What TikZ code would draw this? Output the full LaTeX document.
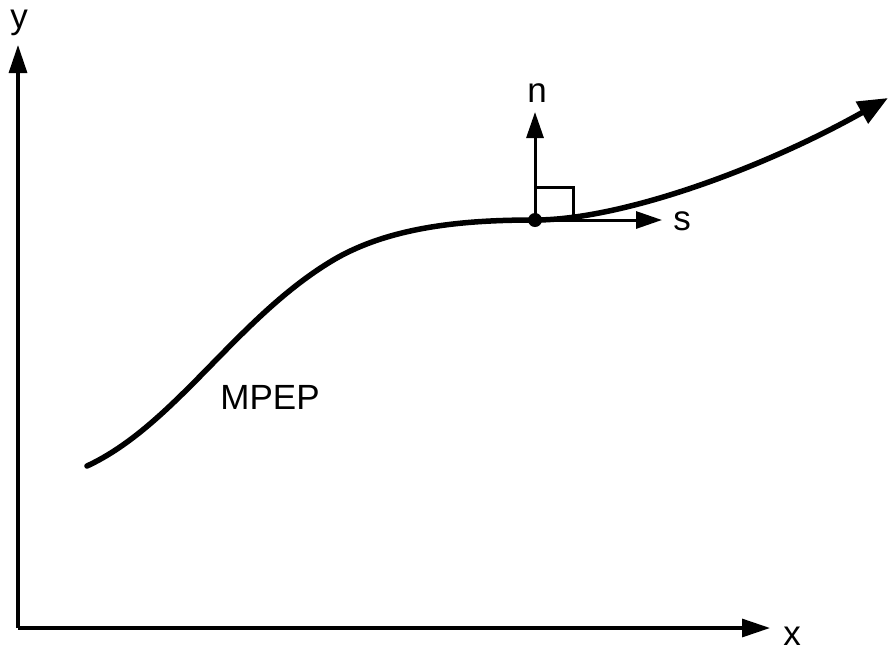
\documentclass[tikz,border=0pt]{standalone}
\usepackage{fontspec}
\setmainfont{Liberation Sans}
\usetikzlibrary{arrows.meta}
\begin{document}
\begin{tikzpicture}[x=1pt,y=-1pt,every node/.style={font=\fontsize{35}{40}\selectfont,inner sep=0pt},
  axis/.style={line width=3.2pt,-{Triangle[length=28pt,width=18pt]}},
  vec/.style={line width=3pt,-{Triangle[length=26pt,width=17pt]}},
  path/.style={line width=5.5pt,line cap=round,-{Triangle[length=30pt,width=24pt]}}]
\useasboundingbox (0,0) rectangle (890,654);
% axes
\coordinate (origin) at (18,628);
\coordinate (ytip) at (18,45);
\coordinate (xtip) at (770,628);
\draw[axis] (origin) -- (ytip);
\draw[axis] (origin) -- (xtip);
\node (ylab) at (19,23) {y};
\node (xlab) at (792,636) {x};
% minimum energy path
\draw[path] (87,466) .. controls (175,425) and (235,320) .. (330,262)
  .. controls (390,225) and (470,220) .. (535,220)
  .. controls (620,220) and (760,170) .. (888,98);
\node (mpep) at (270,397) {MPEP};
% local frame at the point
\node[circle,fill,minimum size=14pt] (pt) at (535,220) {};
\coordinate (ntip) at (535,112);
\coordinate (stip) at (662,220);
\draw[vec] (pt.center) -- (ntip);
\draw[vec] (pt.center) -- (stip);
\draw[line width=3pt] (535,187) -- (573,187) -- (573,220);
\node (nlab) at (537,93) {n};
\node (slab) at (682,221) {s};
\end{tikzpicture}
\end{document}
